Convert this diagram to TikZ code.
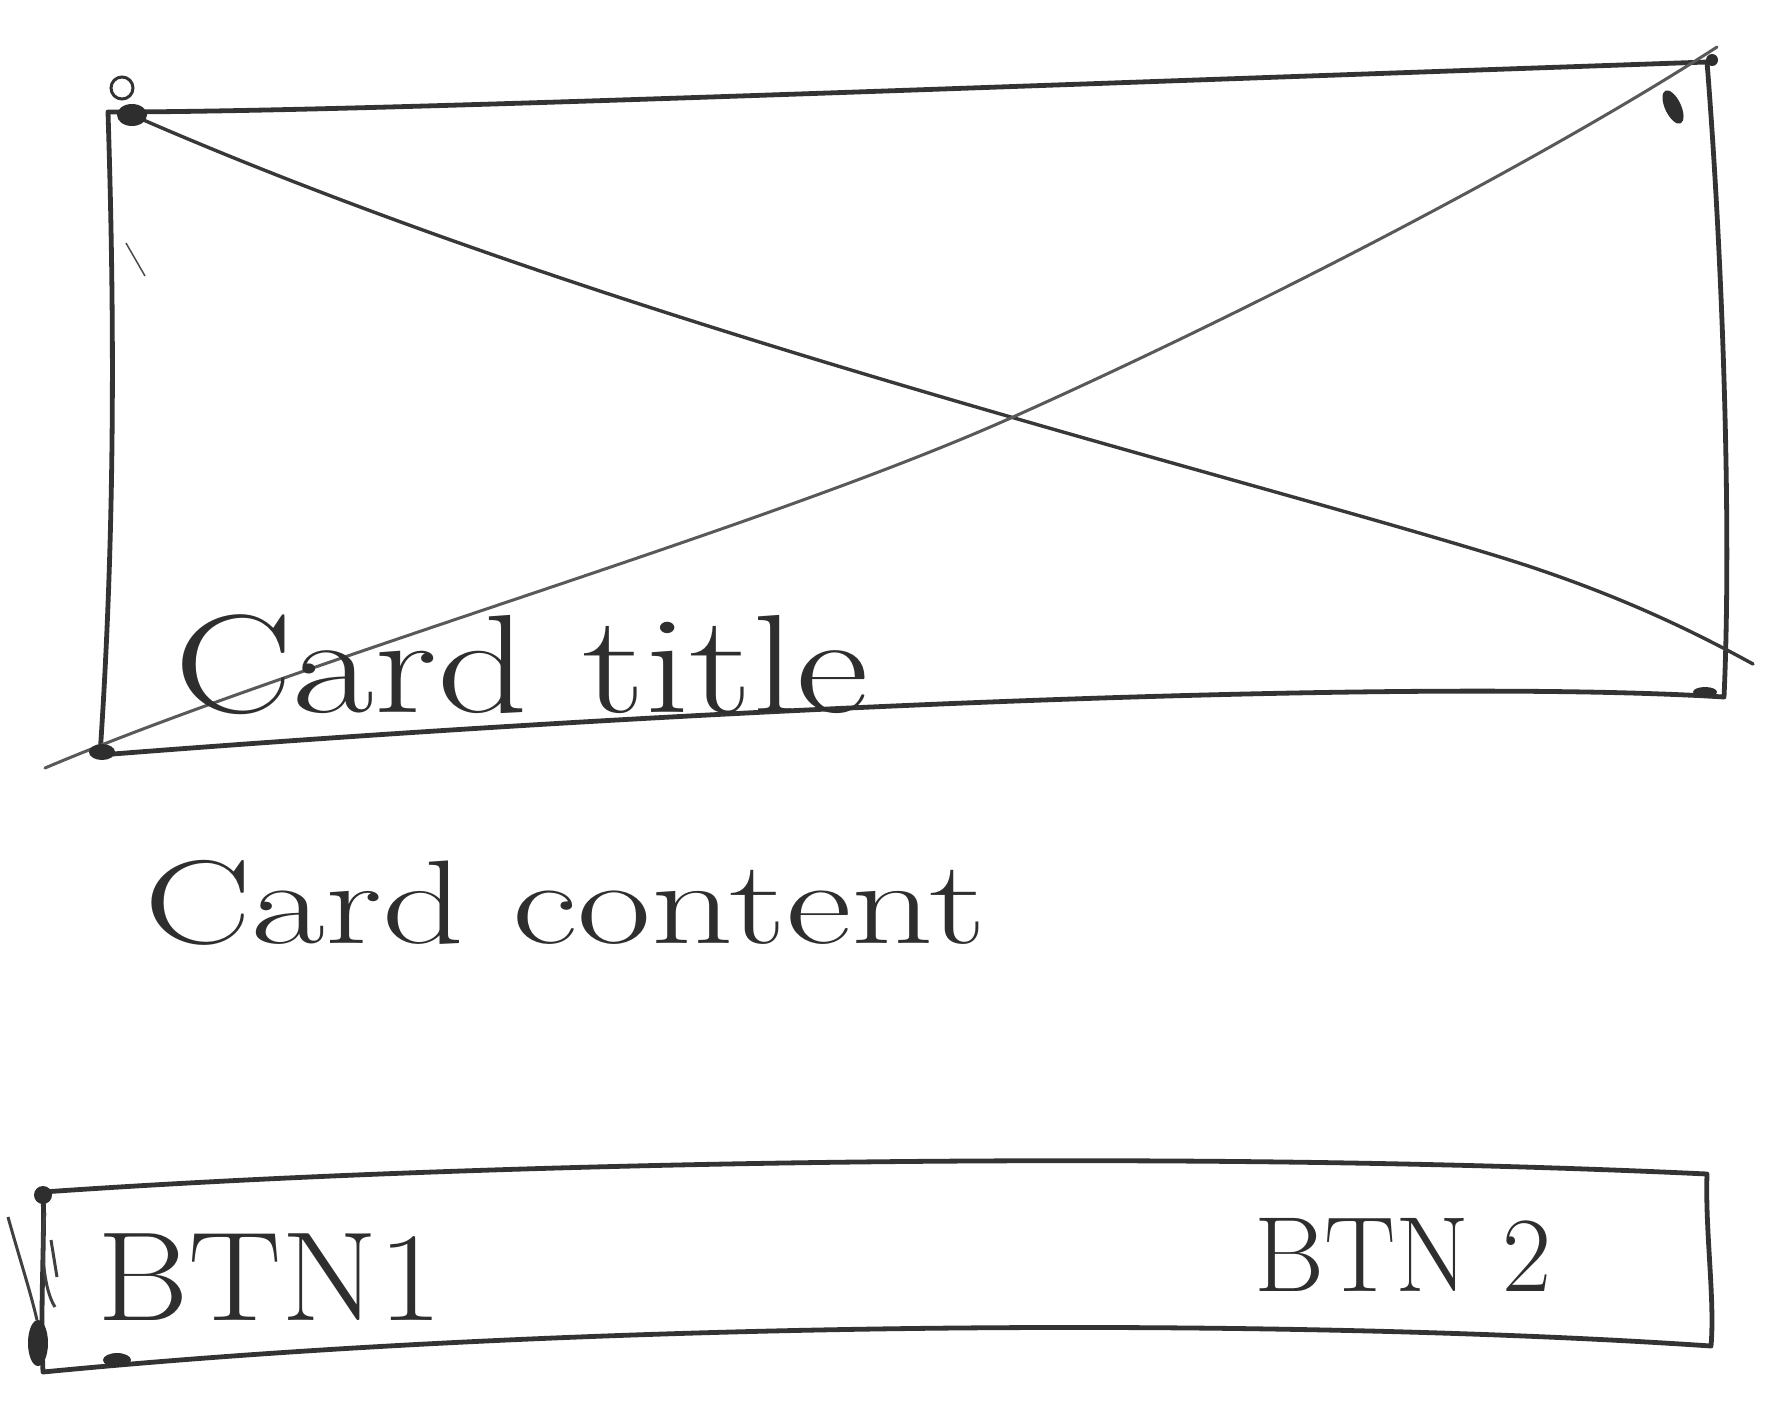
\documentclass[tikz,border=0pt]{standalone}
\usepackage{fontspec}
\usepackage{graphicx}
\begin{document}
\begin{tikzpicture}[x=1pt,y=-1pt,
  ink/.style={draw=black!80,line width=4.8pt,line cap=round,line join=round},
  thin ink/.style={draw=black!78,line width=3.4pt,line cap=round},
  faint ink/.style={draw=black!65,line width=3pt,line cap=round},
  hand/.style={inner sep=0pt,anchor=base west,text=black!82},
  blob/.style={fill=black!82}]
\useasboundingbox (0,0) rectangle (1782,1422);
\fill[white] (0,0) rectangle (1782,1422);
% image box corners
\coordinate (tl) at (108,112);
\coordinate (tr) at (1707,62);
\coordinate (br) at (1724,697);
\coordinate (bl) at (100,755);
\draw[ink] (tl) .. controls (350,112) and (900,90) .. (tr)
  .. controls (1722,250) and (1732,520) .. (br)
  .. controls (1450,680) and (800,700) .. (bl)
  .. controls (116,520) and (114,300) .. (tl);
% diagonals
\coordinate (d1s) at (132,115);
\coordinate (d1e) at (1753,664);
\coordinate (d2s) at (45,768);
\coordinate (d2e) at (1717,47);
\coordinate (cross) at (1013,417);
\draw[thin ink] (d1s) .. controls (600,320) and (1200,465) .. (1500,557)
  .. controls (1620,594) and (1700,635) .. (d1e);
\draw[faint ink] (d2s) .. controls (300,660) and (763,529) .. (cross)
  .. controls (1263,305) and (1550,155) .. (d2e);
% ink blobs
\fill[blob] (132,115) ellipse (15pt and 11pt);
\draw[black!80,line width=3pt] (122,88) circle (11pt);
\fill[blob,rotate around={25:(1673,107)}] (1673,107) ellipse (8pt and 18pt);
\fill[blob] (1712,60) circle (6pt);
\fill[blob] (102,752) ellipse (13pt and 8pt);
\fill[blob] (1705,692) ellipse (12pt and 5pt);
\draw[black!70,line width=1.5pt] (126,243) -- (145,276);
% texts
\node[hand,font=\fontsize{140}{140}\selectfont] (title) at (174,712) {\scalebox{1.27}[1]{Card title}};
\node[hand,font=\fontsize{119}{119}\selectfont] (content) at (144,943) {\scalebox{1.35}[1]{Card content}};
% button bar
\coordinate (btl) at (43,1192);
\coordinate (btr) at (1707,1174);
\coordinate (bbr) at (1711,1346);
\coordinate (bbl) at (43,1372);
\draw[ink] (btl) .. controls (500,1160) and (1200,1150) .. (btr)
  .. controls (1705,1230) and (1715,1300) .. (bbr)
  .. controls (1300,1318) and (600,1318) .. (bbl)
  .. controls (40,1300) and (45,1240) .. (btl);
\fill[blob] (38,1343) ellipse (10pt and 23pt);
\fill[blob] (43,1195) circle (9pt);
\fill[blob] (117,1360) ellipse (14pt and 7pt);
\draw[black!75,line width=3pt] (8,1217) .. controls (20,1260) and (30,1290) .. (37,1320);
\draw[black!75,line width=3pt] (45,1213) .. controls (40,1250) and (44,1290) .. (55,1307);
\draw[black!75,line width=3pt] (51,1240) -- (57,1277);
\node[hand,font=\fontsize{127}{127}\selectfont] (btn1) at (97,1320) {\scalebox{1.1}[1]{BTN1}};
\node[hand,font=\fontsize{107}{107}\selectfont] (btn2) at (1254,1291) {BTN 2};
\end{tikzpicture}
\end{document}
